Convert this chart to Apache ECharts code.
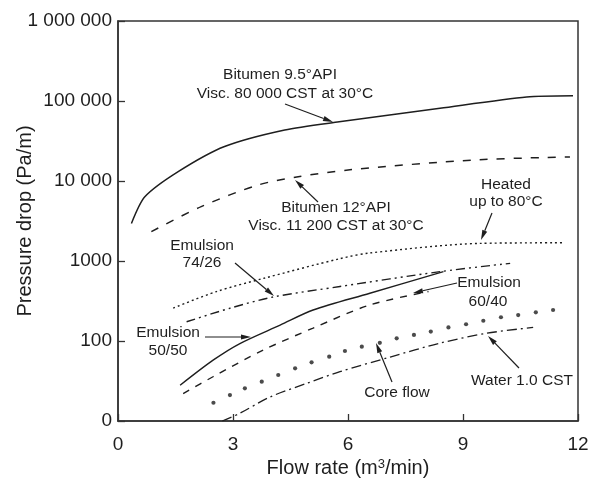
<!DOCTYPE html>
<html>
<head>
<meta charset="utf-8">
<script src="https://cdn.jsdelivr.net/npm/echarts@6/dist/echarts.min.js"></script>
<style>
html,body{margin:0;padding:0;background:#fff;}
#chart{width:589px;height:481px;}
</style>
</head>
<body>
<div id="chart"></div>
<script>
// ---- data (flow rate m3/min, pressure drop Pa/m) ----
var bit95X = [0.35, 0.70, 1.57, 2.78, 4.35, 5.77, 8.40, 10.66, 11.87];
var bit95Y = [2950, 6350, 13100, 27000, 43500, 55000, 81000, 112000, 116000];

var bit12X = [0.87, 2.17, 3.65, 4.70, 6.05, 9.27, 11.79];
var bit12Y = [2330, 4780, 8900, 11300, 13800, 18300, 20000];

var heatedX = [1.44, 2.57, 3.79, 5.79, 6.57, 9.44, 11.62];
var heatedY = [258, 415, 605, 1070, 1260, 1660, 1690];

var em7426X = [1.79, 2.92, 4.05, 5.79, 8.40, 10.23];
var em7426Y = [174, 257, 355, 480, 736, 935];

var em5050X = [1.62, 2.49, 3.18, 4.23, 5.09, 6.57, 8.49];
var em5050Y = [28, 58, 93, 158, 244, 395, 736];

var em6040X = [1.70, 2.49, 3.79, 5.09, 6.57, 8.10];
var em6040Y = [22, 36, 77, 145, 282, 415];

var waterX = [2.72, 3.18, 3.97, 4.92, 5.79, 7.10, 8.40, 9.62, 10.83];
var waterY = [10, 12.5, 20, 29.5, 41.3, 63, 94, 125, 148];

var coreX = [2.49, 2.92, 3.31, 3.75, 4.18, 4.62, 5.05, 5.51, 5.92, 6.36, 6.83, 7.27, 7.72, 8.16, 8.62, 9.08, 9.53, 9.99, 10.44, 10.90, 11.35];
var coreY = [16.9, 21.1, 25.6, 31.0, 37.6, 45.6, 54.2, 63.7, 75, 85, 95, 108, 119, 131, 148, 162, 179, 198, 211, 228, 244];

var xTicks = [0, 3, 6, 9, 12];
var yTickLabels = {10: '0', 100: '100', 1000: '1000', 10000: '10 000', 100000: '100 000', 1000000: '1 000 000'};

function pairs(xs, ys) { return xs.map(function (x, i) { return [x, ys[i]]; }); }

var FONT = 'Liberation Sans, Arial, Helvetica, sans-serif';
var INK = '#1e1e1e';

function lineSeries(name, xs, ys, type, width, sm) {
  return {
    name: name, type: 'line', data: pairs(xs, ys), showSymbol: false, symbol: 'none',
    smooth: sm === undefined ? 0.3 : sm,
    lineStyle: { color: INK, width: width || 1.4, type: type, cap: 'butt' },
    silent: true, z: 3
  };
}

// annotation layout (pixels)
var notes = [
  { t: 'Bitumen 9.5°API', x: 280, y: 75 },
  { t: 'Visc. 80 000 CST at 30°C', x: 285, y: 94 },
  { t: 'Bitumen 12°API', x: 336, y: 208 },
  { t: 'Visc. 11 200 CST at 30°C', x: 336, y: 226 },
  { t: 'Heated', x: 506, y: 185 },
  { t: 'up to 80°C', x: 506, y: 202 },
  { t: 'Emulsion', x: 202, y: 246 },
  { t: '74/26', x: 202, y: 263 },
  { t: 'Emulsion', x: 168, y: 333 },
  { t: '50/50', x: 168, y: 351 },
  { t: 'Emulsion', x: 489, y: 283 },
  { t: '60/40', x: 488, y: 302 },
  { t: 'Core flow', x: 397, y: 393 },
  { t: 'Water 1.0 CST', x: 522, y: 381 }
];
var arrows = [
  [285, 104, 333, 122],
  [318, 202, 295, 180],
  [492, 213, 481, 240],
  [235, 263, 274, 296],
  [205, 337, 251, 337],
  [457, 283, 413, 293],
  [392, 382, 376, 343],
  [519, 368, 488, 336]
];

var graphics = [];
notes.forEach(function (n) {
  graphics.push({
    type: 'text', x: n.x, y: n.y, z: 10,
    style: { text: n.t, fill: INK, font: '15.5px ' + FONT, textAlign: 'center', textVerticalAlign: 'middle' }
  });
});
arrows.forEach(function (a) {
  var x1 = a[0], y1 = a[1], x2 = a[2], y2 = a[3];
  var dx = x2 - x1, dy = y2 - y1, L = Math.sqrt(dx * dx + dy * dy);
  var ux = dx / L, uy = dy / L, hl = 10, hw = 2.6;
  var bx = x2 - ux * hl, by = y2 - uy * hl;
  graphics.push({
    type: 'line', z: 10, shape: { x1: x1, y1: y1, x2: bx, y2: by },
    style: { stroke: INK, lineWidth: 1.2 }
  });
  graphics.push({
    type: 'polygon', z: 10,
    shape: { points: [[x2, y2], [bx - uy * hw, by + ux * hw], [bx + uy * hw, by - ux * hw]] },
    style: { fill: INK }
  });
});

var chart = echarts.init(document.getElementById('chart'), null, { renderer: 'canvas' });
chart.setOption({
  backgroundColor: '#fff',
  animation: false,
  grid: {
    left: 118, right: 11, top: 21, bottom: 60, containLabel: false, outerBoundsMode: 'none',
    show: true, borderColor: '#333', borderWidth: 1.5, backgroundColor: 'transparent'
  },
  xAxis: {
    type: 'value', min: xTicks[0], max: xTicks[xTicks.length - 1], interval: 3,
    name: 'Flow rate (m{sup|3}/min)', nameLocation: 'middle', nameGap: 37, nameMoveOverlap: false,
    nameTextStyle: { fontSize: 20, color: INK, fontFamily: FONT,
      rich: { sup: { fontSize: 13, color: INK, fontFamily: FONT, verticalAlign: 'top', padding: [0, 0, 8, 0] } } },
    axisLine: { lineStyle: { color: '#333', width: 1.5 } },
    axisTick: { inside: true, length: 7, lineStyle: { color: '#333', width: 1.3 } },
    axisLabel: { fontSize: 19, color: INK, fontFamily: FONT, margin: 14 },
    splitLine: { show: false }
  },
  yAxis: {
    type: 'log', logBase: 10, min: 10, max: 1000000,
    name: 'Pressure drop (Pa/m)', nameLocation: 'middle', nameGap: 83, nameMoveOverlap: false,
    nameTextStyle: { fontSize: 20, color: INK, fontFamily: FONT },
    axisLine: { lineStyle: { color: '#333', width: 1.5 } },
    axisTick: { inside: true, length: 7, lineStyle: { color: '#333', width: 1.3 } },
    axisLabel: {
      fontSize: 19, color: INK, fontFamily: FONT, margin: 6,
      formatter: function (v) { var k = Math.round(v); return yTickLabels[k] !== undefined ? yTickLabels[k] : ''; }
    },
    splitLine: { show: false }, minorTick: { show: false }
  },
  series: [
    lineSeries('Bitumen 9.5°API', bit95X, bit95Y, 'solid', 1.5, 0.25),
    lineSeries('Bitumen 12°API', bit12X, bit12Y, [8, 9], 1.5),
    lineSeries('Heated up to 80°C', heatedX, heatedY, [2, 3], 1.4),
    lineSeries('Emulsion 74/26', em7426X, em7426Y, [9, 4, 2, 4, 2, 4], 1.4),
    lineSeries('Emulsion 50/50', em5050X, em5050Y, 'solid', 1.4),
    lineSeries('Emulsion 60/40', em6040X, em6040Y, [7, 7], 1.4),
    lineSeries('Water 1.0 CST', waterX, waterY, [10, 4, 2, 4], 1.3),
    {
      name: 'Core flow', type: 'scatter', data: pairs(coreX, coreY),
      symbol: 'circle', symbolSize: 4.2, itemStyle: { color: INK }, silent: true, z: 3
    }
  ],
  graphic: graphics
});
</script>
</body>
</html>
